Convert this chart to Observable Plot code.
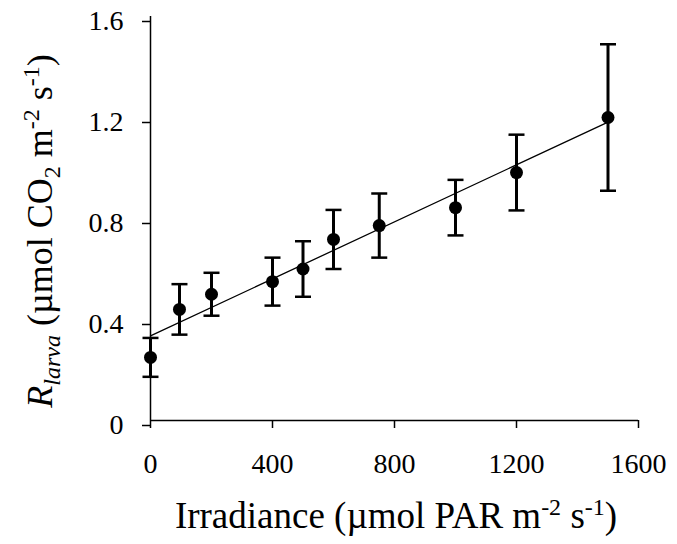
<!DOCTYPE html>
<html><head>
<meta charset="utf-8">
<script src="https://cdn.jsdelivr.net/npm/d3@7"></script>
<script src="https://cdn.jsdelivr.net/npm/@observablehq/plot@0.6"></script>
<style>
body{margin:0;background:#fff}
svg{display:block}
svg text{font-family:"Liberation Serif","Times New Roman",serif !important;}
</style>
</head><body><div id="chart"></div>
<script>
// Data
const irradiance  = [0, 95, 200, 400, 500, 600, 750, 1000, 1200, 1500];
const respiration = [0.25, 0.44, 0.50, 0.55, 0.60, 0.717, 0.772, 0.843, 0.982, 1.20];
const errorHalf   = [0.077, 0.10, 0.085, 0.095, 0.11, 0.117, 0.127, 0.11, 0.15, 0.29];
const fitX = [0, 1500];
const fitY = [0.335, 1.182];
const xTicks = [0, 400, 800, 1200, 1600];
const yTicks = [0, 0.4, 0.8, 1.2, 1.6];

const data = irradiance.map((x, i) => ({x, y: respiration[i], lo: respiration[i] - errorHalf[i], hi: respiration[i] + errorHalf[i]}));
const fit = fitX.map((x, i) => ({x, y: fitY[i]}));

const capSymbol = {
  draw(ctx, size) {
    const r = Math.sqrt(size / Math.PI);
    ctx.moveTo(-r, 0);
    ctx.lineTo(r, 0);
  }
};

const font = "Liberation Serif";

const chart = Plot.plot({
  width: 677,
  height: 544,
  marginLeft: 150,
  marginRight: 39,
  marginTop: 16,
  marginBottom: 124,
  x: {domain: [0, 1600]},
  y: {domain: [0, 1.6]},
  style: {fontFamily: font, fontSize: "28px", color: "black", background: "white"},
  marks: [
    Plot.axisX({ticks: xTicks, tickSize: 8, tickPadding: 25, tickFormat: d => String(d), label: null, fontSize: 28, fontFamily: font, strokeWidth: 1.5}),
    Plot.axisY({ticks: yTicks, tickSize: 8, tickPadding: 19, tickFormat: d => d === 0 ? "0" : d.toFixed(1), label: null, fontSize: 28, fontFamily: font, dy: 5, strokeWidth: 1.5}),
    Plot.ruleX([0], {stroke: "black", strokeWidth: 1.5}),
    Plot.ruleY([0], {stroke: "black", strokeWidth: 1.5}),
    Plot.line(fit, {x: "x", y: "y", stroke: "black", strokeWidth: 1.3}),
    Plot.ruleX(data, {x: "x", y1: "lo", y2: "hi", stroke: "black", strokeWidth: 3}),
    Plot.dot(data, {x: "x", y: "hi", symbol: capSymbol, r: 8, stroke: "black", strokeWidth: 2.5, fill: "none"}),
    Plot.dot(data, {x: "x", y: "lo", symbol: capSymbol, r: 8, stroke: "black", strokeWidth: 2.5, fill: "none"}),
    Plot.dot(data, {x: "x", y: "y", r: 6.5, fill: "black", stroke: "none"})
  ]
});

document.getElementById("chart").appendChild(chart);

const svg = d3.select(chart);
// X title
const xt = svg.append("text")
  .attr("x", 396).attr("y", 528)
  .attr("text-anchor", "middle")
  .attr("font-size", 37).attr("fill", "black");
xt.append("tspan").text("Irradiance (µmol PAR m");
xt.append("tspan").attr("font-size", 24).attr("dy", -13).text("-2");
xt.append("tspan").attr("dy", 13).text(" s");
xt.append("tspan").attr("font-size", 24).attr("dy", -13).text("-1");
xt.append("tspan").attr("dy", 13).text(")");

// Y title
const yt = svg.append("text")
  .attr("transform", "translate(52,231) rotate(-90)")
  .attr("text-anchor", "middle")
  .attr("font-size", 36).attr("fill", "black");
yt.append("tspan").attr("font-style", "italic").text("R");
yt.append("tspan").attr("font-style", "italic").attr("font-size", 24).attr("dy", 8).text("larva");
yt.append("tspan").attr("dy", -8).text(" (µmol CO");
yt.append("tspan").attr("font-size", 24).attr("dy", 8).text("2");
yt.append("tspan").attr("dy", -8).text(" m");
yt.append("tspan").attr("font-size", 24).attr("dy", -13).text("-2");
yt.append("tspan").attr("dy", 13).text(" s");
yt.append("tspan").attr("font-size", 24).attr("dy", -13).text("-1");
yt.append("tspan").attr("dy", 13).text(")");
</script>
</body></html>
